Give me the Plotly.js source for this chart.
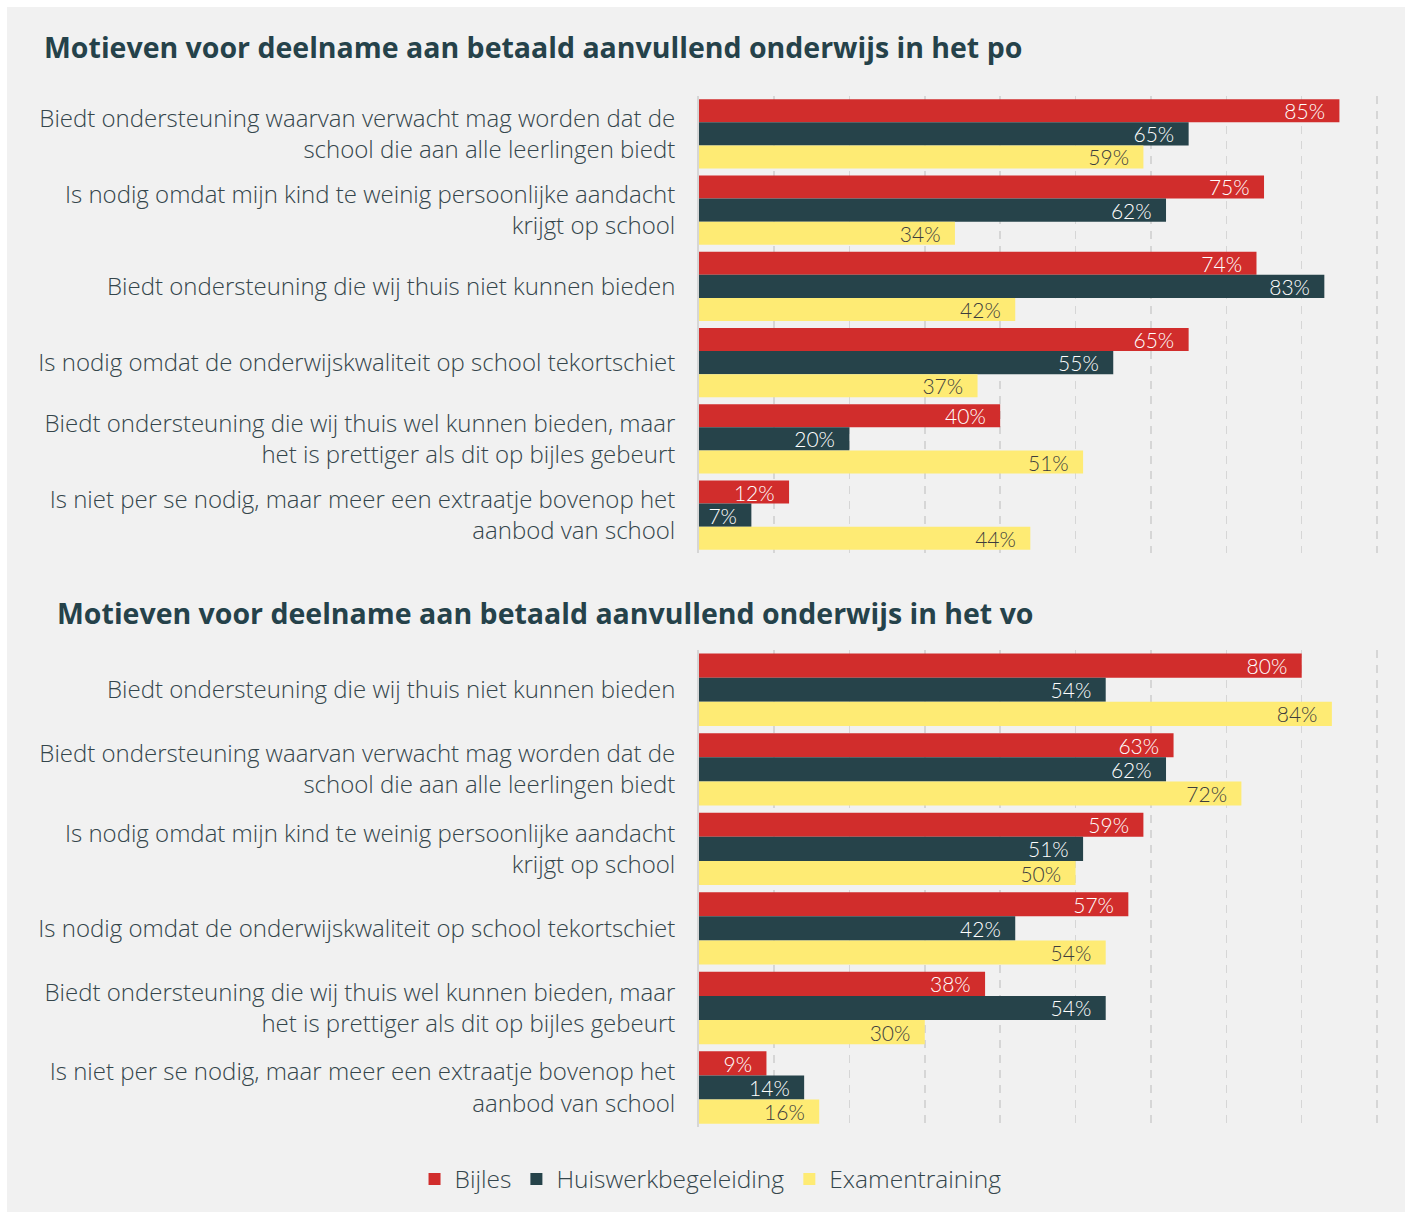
<!DOCTYPE html>
<html>
<head>
<meta charset="utf-8">
<script src="https://cdn.plot.ly/plotly-3.0.1.min.js"></script>
<style>
  html, body { margin: 0; padding: 0; background: #ffffff; }
  #chart { width: 1407px; height: 1212px; }
</style>
</head>
<body>
<div id="chart"></div>
<script>
// ---- Data ----
const seriesNames = ["Bijles", "Huiswerkbegeleiding", "Examentraining"];

const poCategories = [
  "Biedt ondersteuning waarvan verwacht mag worden dat de<br>school die aan alle leerlingen biedt",
  "Is nodig omdat mijn kind te weinig persoonlijke aandacht<br>krijgt op school",
  "Biedt ondersteuning die wij thuis niet kunnen bieden",
  "Is nodig omdat de onderwijskwaliteit op school tekortschiet",
  "Biedt ondersteuning die wij thuis wel kunnen bieden, maar<br>het is prettiger als dit op bijles gebeurt",
  "Is niet per se nodig, maar meer een extraatje bovenop het<br>aanbod van school"
];
const poBijles = [85, 75, 74, 65, 40, 12];
const poHuiswerk = [65, 62, 83, 55, 20, 7];
const poExamen = [59, 34, 42, 37, 51, 44];

const voCategories = [
  "Biedt ondersteuning die wij thuis niet kunnen bieden",
  "Biedt ondersteuning waarvan verwacht mag worden dat de<br>school die aan alle leerlingen biedt",
  "Is nodig omdat mijn kind te weinig persoonlijke aandacht<br>krijgt op school",
  "Is nodig omdat de onderwijskwaliteit op school tekortschiet",
  "Biedt ondersteuning die wij thuis wel kunnen bieden, maar<br>het is prettiger als dit op bijles gebeurt",
  "Is niet per se nodig, maar meer een extraatje bovenop het<br>aanbod van school"
];
const voBijles = [80, 63, 59, 57, 38, 9];
const voHuiswerk = [54, 62, 51, 42, 54, 14];
const voExamen = [84, 72, 50, 54, 30, 16];

const titlePo = "Motieven voor deelname aan betaald aanvullend onderwijs in het po";
const titleVo = "Motieven voor deelname aan betaald aanvullend onderwijs in het vo";

// ---- Styles ----
const colors = ["#d12d2c", "#26434a", "#feeb74"];
const textColors = ["#ffffff", "#ffffff", "#3d3d3d"];
const valueFont = "'Lato', 'Noto Sans', sans-serif";
const labelFont = "'Open Sans', 'Noto Sans', sans-serif";
const darkText = "#34454b";

function mkTrace(name, idx, vals, cats, xa, ya, showLegend) {
  return {
    type: "bar",
    orientation: "h",
    name: name,
    x: vals,
    y: cats,
    xaxis: xa,
    yaxis: ya,
    showlegend: showLegend,
    legendgroup: name,
    marker: { color: colors[idx], line: { width: 0 } },
    text: vals.map(v => v + "%\u00a0\u00a0"),
    textposition: "inside",
    insidetextanchor: "end",
    insidetextfont: { family: valueFont, size: 21, color: textColors[idx], weight: 300 },
    constraintext: "none",
    hoverinfo: "skip",
    cliponaxis: false
  };
}

const data = [
  mkTrace(seriesNames[0], 0, poBijles, poCategories, "x", "y", true),
  mkTrace(seriesNames[1], 1, poHuiswerk, poCategories, "x", "y", true),
  mkTrace(seriesNames[2], 2, poExamen, poCategories, "x", "y", true),
  mkTrace(seriesNames[0], 0, voBijles, voCategories, "x2", "y2", false),
  mkTrace(seriesNames[1], 1, voHuiswerk, voCategories, "x2", "y2", false),
  mkTrace(seriesNames[2], 2, voExamen, voCategories, "x2", "y2", false)
];

const W = 1407, H = 1212;
const xDom = [698.6 / W, 1379.0 / W];

function xAxis(anchor) {
  return {
    domain: xDom,
    anchor: anchor,
    range: [0, 90.25],
    dtick: 10,
    tick0: 0,
    showticklabels: false,
    showgrid: true,
    gridcolor: "#d6d6d6",
    gridwidth: 1.5,
    griddash: "8px,7px",
    zeroline: false,
    showline: false,
    fixedrange: true
  };
}
function yAxis(anchor, dom) {
  return {
    domain: dom,
    anchor: anchor,
    autorange: "reversed",
    type: "category",
    showline: true,
    linecolor: "#d6d6d6",
    linewidth: 1.5,
    ticks: "",
    ticklabelstandoff: 17,
    tickfont: { family: labelFont, size: 24, color: darkText, weight: 300 },
    showgrid: false,
    zeroline: false,
    fixedrange: true
  };
}

const layout = {
  width: W,
  height: H,
  margin: { l: 0, r: 0, t: 0, b: 0 },
  paper_bgcolor: "#ffffff",
  plot_bgcolor: "#ffffff",
  barmode: "group",
  bargap: 0.09,
  bargroupgap: 0,
  xaxis: xAxis("y"),
  yaxis: yAxis("x", [1 - 553.3 / H, 1 - 95.7 / H]),
  xaxis2: xAxis("y2"),
  yaxis2: yAxis("x2", [1 - 1127.3 / H, 1 - 650 / H]),
  shapes: [
    { type: "rect", xref: "paper", yref: "paper", x0: 7 / W, x1: 1405 / W, y0: 0, y1: 1 - 7 / H,
      fillcolor: "#f1f1f1", line: { width: 0 }, layer: "below" }
  ],
  annotations: [
    { text: "<b>" + titlePo + "</b>", xref: "paper", yref: "paper", x: 42 / W, y: 1 - 47 / H,
      xanchor: "left", yanchor: "middle", showarrow: false,
      font: { family: "'Open Sans', 'Noto Sans', sans-serif", size: 28.5, color: "#25424a", weight: 800 } },
    { text: "<b>" + titleVo + "</b>", xref: "paper", yref: "paper", x: 55 / W, y: 1 - 613 / H,
      xanchor: "left", yanchor: "middle", showarrow: false,
      font: { family: "'Open Sans', 'Noto Sans', sans-serif", size: 28.5, color: "#25424a", weight: 800 } }
  ],
  legend: {
    orientation: "h",
    x: 0.505,
    xanchor: "center",
    y: 1 - 1179 / H,
    yanchor: "middle",
    bgcolor: "rgba(0,0,0,0)",
    font: { family: labelFont, size: 24.5, color: darkText, weight: 300 },
    traceorder: "normal",
    itemclick: false,
    itemdoubleclick: false
  },
  font: { family: labelFont }
};

Plotly.newPlot("chart", data, layout, { displayModeBar: false, staticPlot: true });
</script>
</body>
</html>
